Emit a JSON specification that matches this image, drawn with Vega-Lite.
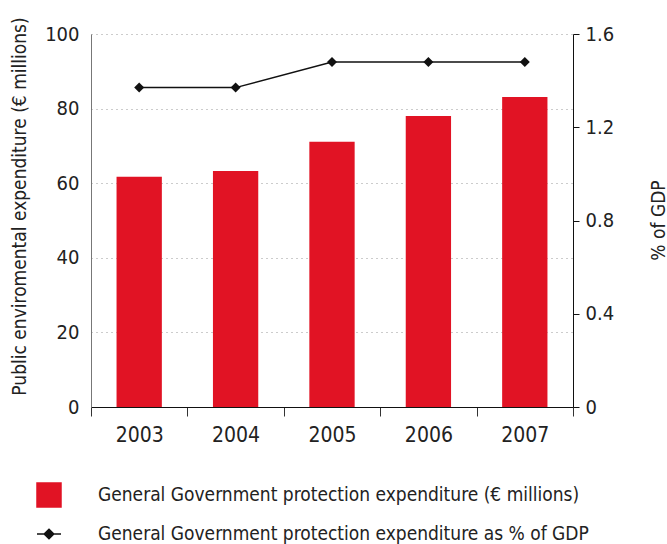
{
  "$schema": "https://vega.github.io/schema/vega-lite/v6.json",
  "width": 482,
  "height": 373,
  "autosize": {"type": "none"},
  "padding": {"left": 91, "top": 34, "right": 94, "bottom": 137},
  "background": "white",
  "config": {
    "view": {"stroke": null},
    "font": "Liberation Sans Narrow, DejaVu Sans Condensed, sans-serif",
    "axis": {"labelFont": "Liberation Sans Narrow, DejaVu Sans Condensed, sans-serif", "titleFont": "Liberation Sans Narrow, DejaVu Sans Condensed, sans-serif", "labelColor": "#222", "titleColor": "#222", "titleFontWeight": "normal"},
    "legend": {"labelFont": "Liberation Sans Narrow, DejaVu Sans Condensed, sans-serif"}
  },
  "data": {
    "values": [
      {"year": "2003", "expenditure": 61.7, "gdp": 1.37, "barSeries": "General Government protection expenditure (€ millions)", "lineSeries": "General Government protection expenditure as % of GDP"},
      {"year": "2004", "expenditure": 63.3, "gdp": 1.37, "barSeries": "General Government protection expenditure (€ millions)", "lineSeries": "General Government protection expenditure as % of GDP"},
      {"year": "2005", "expenditure": 71.1, "gdp": 1.48, "barSeries": "General Government protection expenditure (€ millions)", "lineSeries": "General Government protection expenditure as % of GDP"},
      {"year": "2006", "expenditure": 78.0, "gdp": 1.48, "barSeries": "General Government protection expenditure (€ millions)", "lineSeries": "General Government protection expenditure as % of GDP"},
      {"year": "2007", "expenditure": 83.1, "gdp": 1.48, "barSeries": "General Government protection expenditure (€ millions)", "lineSeries": "General Government protection expenditure as % of GDP"}
    ]
  },
  "encoding": {
    "x": {
      "field": "year", "type": "nominal",
      "scale": {"paddingInner": 0, "paddingOuter": 0},
      "axis": {"title": null, "labelAngle": 0, "labelFontSize": 21, "labelPadding": 8, "tickBand": "extent", "tickSize": 9, "tickColor": "#333", "domainColor": "#111", "labelColor": "#222"}
    }
  },
  "layer": [
    {
      "mark": {"type": "bar", "width": {"band": 0.47}},
      "encoding": {
        "y": {
          "field": "expenditure", "type": "quantitative",
          "scale": {"domain": [0, 100]},
          "axis": {"title": "Public enviromental expenditure (€ millions)", "titleFontSize": 19, "titleAngle": -90, "titleX": -72, "titleY": 172, "titleAlign": "center", "titleBaseline": "middle", "values": [0, 20, 40, 60, 80, 100], "labelFontSize": 20, "labelPadding": 12, "ticks": false, "domainColor": "#777", "grid": true, "gridDash": [1, 4], "gridColor": "#999", "gridWidth": 1}
        },
        "color": {
          "field": "barSeries", "type": "nominal",
          "scale": {"domain": ["General Government protection expenditure (€ millions)", "General Government protection expenditure as % of GDP"], "range": ["#e11324", "#111111"]},
          "legend": {
            "title": null, "orient": "none", "legendX": -55, "legendY": 448, "direction": "vertical",
            "labelFontSize": 19, "labelColor": "#222", "labelLimit": 600, "symbolSize": 576, "labelOffset": 36, "rowPadding": 11,
            "encode": {
              "symbols": {
                "update": {
                  "shape": {"signal": "datum.value === 'General Government protection expenditure (€ millions)' ? 'square' : 'M-1,0L1,0M0,-0.4L0.4,0L0,0.4L-0.4,0Z'"},
                  "fill": {"signal": "datum.value === 'General Government protection expenditure (€ millions)' ? '#e11324' : '#111111'"},
                  "stroke": {"signal": "datum.value === 'General Government protection expenditure (€ millions)' ? null : '#111111'"},
                  "strokeWidth": {"value": 1.5},
                  "opacity": {"value": 1},
                  "fillOpacity": {"value": 1}
                }
              }
            }
          }
        }
      }
    },
    {
      "mark": {"type": "line", "strokeWidth": 1.5, "point": {"shape": "diamond", "filled": true, "size": 100, "opacity": 1}},
      "encoding": {
        "y": {
          "field": "gdp", "type": "quantitative",
          "scale": {"domain": [0, 1.6]},
          "axis": {"orient": "right", "title": "% of GDP", "titleFontSize": 19, "titleAngle": -90, "titleX": 85, "titleY": 186, "titleAlign": "center", "titleBaseline": "middle", "values": [0, 0.4, 0.8, 1.2, 1.6], "labelExpr": "datum.value == 0 ? '0' : format(datum.value, '.1f')", "labelFontSize": 20, "labelPadding": 6, "tickSize": 6, "tickColor": "#111", "domainColor": "#111", "grid": false}
        },
        "color": {"field": "lineSeries", "type": "nominal"}
      }
    }
  ],
  "resolve": {"scale": {"y": "independent"}}
}
